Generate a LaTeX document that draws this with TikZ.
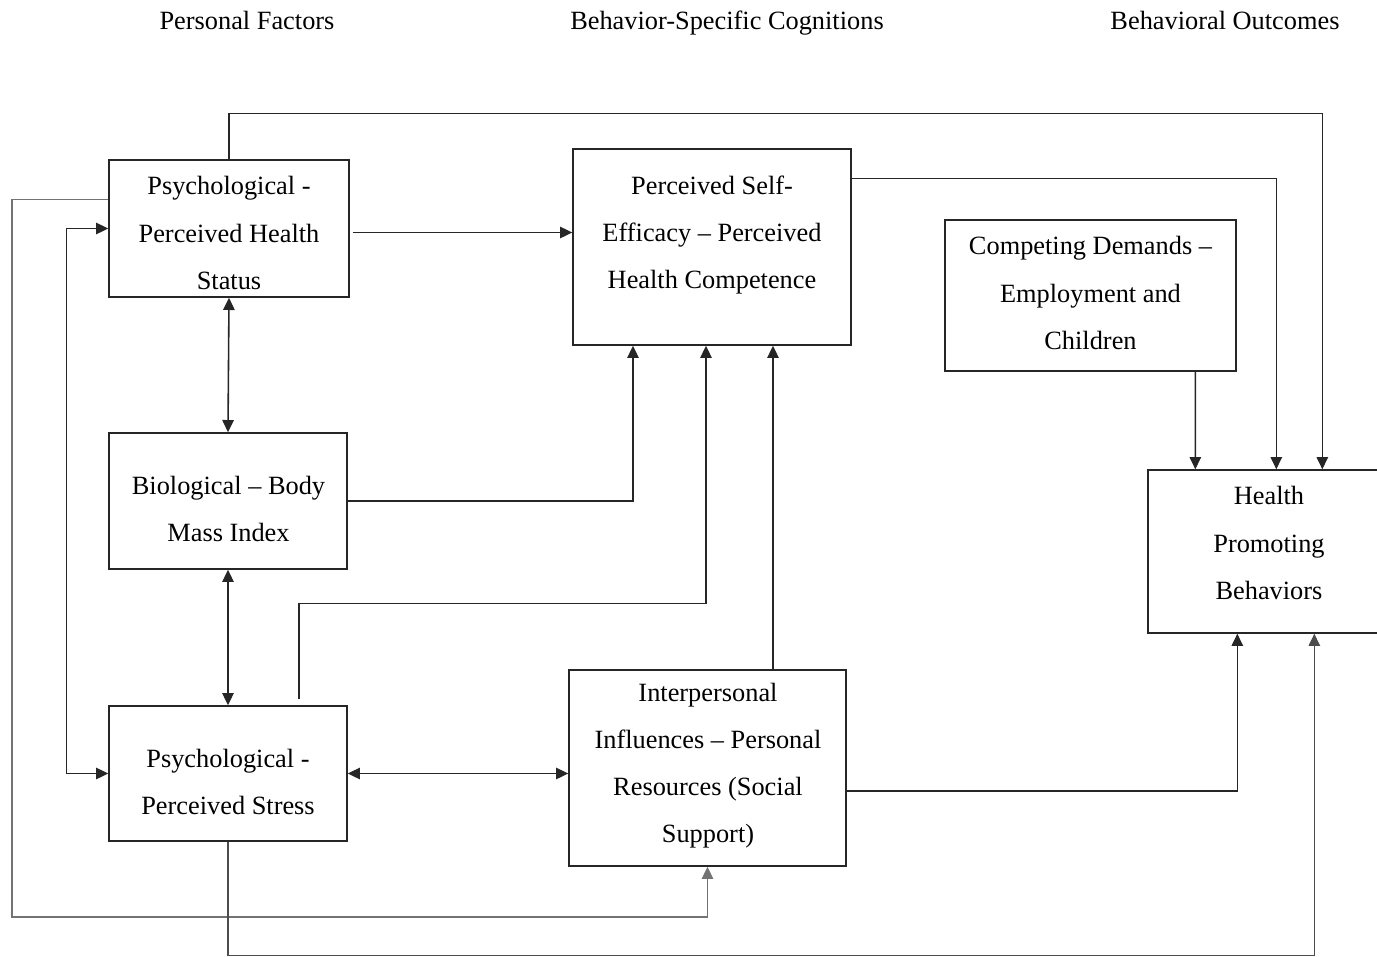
\documentclass[tikz,border=0pt]{standalone}
\usepackage{fontspec}
\setmainfont{Liberation Serif}
\usetikzlibrary{arrows.meta,calc}
\tikzset{
	box/.style={draw=black!85, line width=0.8pt, inner sep=0pt},
	txt/.style={align=center, inner sep=0pt, font=\fontsize{15}{26.8}\selectfont},
	head/.style={anchor=base, text depth=0pt, font=\fontsize{15}{18}\selectfont},
	link/.style={draw=black!85, line width=0.9pt},
	tip/.style={-{Triangle[length=7pt,width=6.5pt]}},
	tips/.style={{Triangle[length=7pt,width=6.5pt]}-{Triangle[length=7pt,width=6.5pt]}}
}
\begin{document}
\begin{tikzpicture}[x=0.02cm, y=-0.02cm]
				\clip (0,0) rectangle (1377,957);

				% Headings
				\node[head] (pf) at (247,29) {Personal Factors};
				\node[head] (bsc) at (727,29) {Behavior-Specific Cognitions};
				\node[head] (bo) at (1225,29) {Behavioral Outcomes};

				% Personal factors
				\node[box, minimum width=4.8cm, minimum height=2.74cm] (phs) at (229,228.5) {};
				\node[txt] (phstext) at (229,233) {Psychological -\\Perceived Health\\Status};
				\node[box, minimum width=4.76cm, minimum height=2.72cm] (bmi) at (228,501) {};
				\node[txt] (bmitext) at (228.5,509) {Biological -- Body\\Mass Index};
				\node[box, minimum width=4.76cm, minimum height=2.7cm] (ps) at (228,773.5) {};
				\node[txt] (pstext) at (228,782) {Psychological -\\Perceived Stress};

				% Behavior-specific cognitions
				\node[box, minimum width=5.56cm, minimum height=3.92cm] (se) at (712,247) {};
				\node[txt] (setext) at (712,235) {Perceived Self-\\Efficacy -- Perceived\\Health Competence};
				\node[box, minimum width=5.54cm, minimum height=3.92cm] (ip) at (707.5,768) {};
				\node[txt] (iptext) at (708,766) {Interpersonal\\Influences -- Personal\\Resources (Social\\Support)};

				% Behavioral outcomes
				\node[box, minimum width=5.82cm, minimum height=3.02cm] (cd) at (1090.5,295.5) {};
				\node[txt] (cdtext) at (1090.5,293) {Competing Demands --\\Employment and\\Children};
				\node[box, minimum width=4.8cm, minimum height=3.26cm] (hpb) at (1268,551.5) {};
				\node[txt] (hpbtext) at (1269,543) {Health\\Promoting\\Behaviors};

				% Links
				\draw[link, tip] (phs.north) -- ++(0,-46) -| ($(hpb.north west)+(175,0)$);
				\draw[link, draw=black!55, tip] ($(phs.north west)+(0,40)$) -| (12,917) -| (ip.south);
				\draw[link, tips] (phs.west) -- ++(-42,0) |- (ps.west);
				\draw[link, tip] ($(phs.east)+(3,4)$) -- ($(phs.east -| se.west)+(0,4)$);
				\draw[link, tips] (phs.south) -- (bmi.north);
				\draw[link, tips] (bmi.south) -- (ps.north);
				\draw[link, tip] (bmi.east) -| ($(se.south)+(-79,0)$);
				\draw[link, tip] ($(ps.north)+(71,-6)$) -- ++(0,-96) -| ($(se.south)+(-6,0)$);
				\draw[link, tip] ($(ip.north)+(65.5,0)$) -- ($(se.south)+(61,0)$);
				\draw[link, tips] (ps.east) -- (ps.east -| ip.west);
				\draw[link, tip] ($(se.north east)+(0,30)$) -| ($(hpb.north west)+(129,0)$);
				\draw[link, tip] ($(cd.south west)+(251,0)$) -- ($(hpb.north west)+(48,0)$);
				\draw[link, tip] ($(ip.east)+(0,23)$) -| ($(hpb.south west)+(90,0)$);
				\draw[link, draw=black!70, tip] (ps.south) -- ++(0,114) -| ($(hpb.south west)+(167,0)$);
\end{tikzpicture}
\end{document}
